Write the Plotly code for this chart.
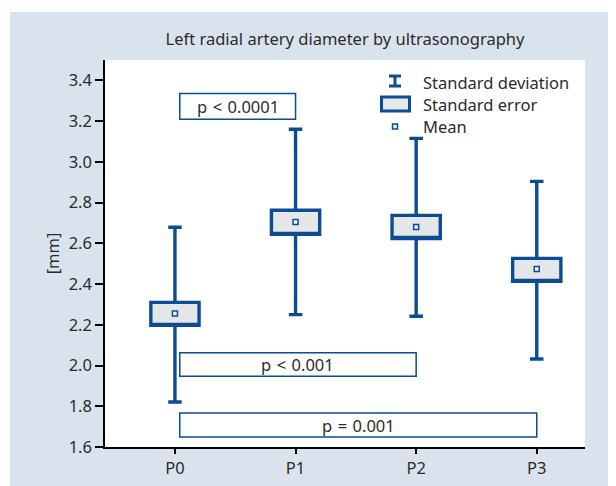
import plotly.graph_objects as go

# ---- data ----
categories = ["P0", "P1", "P2", "P3"]
mean_mm = [2.255, 2.705, 2.680, 2.474]
se_low = [2.197, 2.644, 2.624, 2.413]
se_high = [2.310, 2.762, 2.737, 2.526]
sd_low = [1.821, 2.250, 2.242, 2.032]
sd_high = [2.679, 3.160, 3.115, 2.904]

comp_to = ["P1", "P2", "P3"]          # each compared against P0
comp_labels = ["p\u2004<\u20040.0001", "p\u2004<\u20040.001", "p\u2004=\u20040.001"]
comp_y_low = [3.209, 1.947, 1.649]
comp_y_high = [3.335, 2.063, 1.767]

legend_labels = ["Standard deviation", "Standard error", "Mean"]
yticks = [1.6, 1.8, 2.0, 2.2, 2.4, 2.6, 2.8, 3.0, 3.2, 3.4]

# ---- style ----
BLUE = "#0b4c92"
FILL = "#e5e6e8"
BG = "#dae3ed"
TXT = "#2b2b2b"
FONT = "Noto Sans"
FS = 16.5

OFF = 8  # page body margin
W, H = 616, 486
# screen positions of the plot area
SL, ST, SR, SB = 105, 60, 585, 446.7
L = SL - OFF
T = ST - OFF
pw = SR - SL
ph = SB - ST
R = W - L - pw
B = H - T - ph


def px(xs):
    return (xs - SL) / pw


def py(ys):
    return (SB - ys) / ph


fig = go.Figure()

fig.add_trace(go.Box(
    x=categories,
    q1=se_low,
    median=se_low,
    q3=se_high,
    lowerfence=sd_low,
    upperfence=sd_high,
    width=0.4,
    whiskerwidth=0.28,
    fillcolor=FILL,
    line=dict(color=BLUE, width=3.4),
    boxpoints=False,
    hoverinfo="skip",
    showlegend=False,
))

fig.add_trace(go.Scatter(
    x=categories,
    y=mean_mm,
    mode="markers",
    marker=dict(symbol="square", size=5, color="#f2f4f7",
                line=dict(color=BLUE, width=1.5)),
    showlegend=False,
    hoverinfo="skip",
))

shapes = []
annotations = []

# comparison boxes
for tgt, lab, y0, y1 in zip(comp_to, comp_labels, comp_y_low, comp_y_high):
    xi = categories.index(tgt)
    shapes.append(dict(type="rect", xref="x", yref="y",
                       x0=0.04, x1=xi, y0=y0, y1=y1,
                       line=dict(color=BLUE, width=1.5), fillcolor="white",
                       layer="above"))
    annotations.append(dict(x=(0.04 + xi) / 2, y=(y0 + y1) / 2, xref="x", yref="y",
                            text=lab, showarrow=False,
                            font=dict(size=FS, color=TXT, family=FONT)))

# white strips at top and left of the page
shapes.append(dict(type="rect", xref="paper", yref="paper",
                   x0=px(-20), x1=px(W + 20), y0=py(12), y1=py(-20),
                   fillcolor="white", line=dict(width=0), layer="below"))
shapes.append(dict(type="rect", xref="paper", yref="paper",
                   x0=px(-20), x1=px(10), y0=py(H + 20), y1=py(-20),
                   fillcolor="white", line=dict(width=0), layer="below"))

# manual legend
shapes.append(dict(type="line", xref="paper", yref="paper",
                   x0=px(395), x1=px(395), y0=py(76), y1=py(86),
                   line=dict(color=BLUE, width=3)))
for yy in (76, 86):
    shapes.append(dict(type="line", xref="paper", yref="paper",
                       x0=px(389), x1=px(401), y0=py(yy), y1=py(yy),
                       line=dict(color=BLUE, width=3)))
shapes.append(dict(type="rect", xref="paper", yref="paper",
                   x0=px(381.5), x1=px(409.5), y0=py(97), y1=py(111),
                   fillcolor=FILL, line=dict(color=BLUE, width=3)))
shapes.append(dict(type="rect", xref="paper", yref="paper",
                   x0=px(392.5), x1=px(397.5), y0=py(124), y1=py(129),
                   fillcolor="#f2f4f7", line=dict(color=BLUE, width=1.5)))

for lab, yc in zip(legend_labels, [82.5, 104.5, 126.5]):
    annotations.append(dict(x=px(421), y=py(yc), xref="paper", yref="paper",
                            xanchor="left", yanchor="middle", text=lab,
                            showarrow=False,
                            font=dict(size=FS, color=TXT, family=FONT)))

fig.update_layout(
    width=W, height=H,
    margin=dict(l=L, r=R, t=T, b=B),
    paper_bgcolor=BG,
    plot_bgcolor="white",
    font=dict(family=FONT, size=FS, color=TXT),
    title=dict(text="Left radial artery diameter by ultrasonography",
               x=(L + pw / 2) / W, xanchor="center",
               y=1 - (39 - OFF) / H, yanchor="middle",
               font=dict(size=FS, color=TXT, family=FONT)),
    shapes=shapes,
    annotations=annotations,
    showlegend=False,
)

fig.update_xaxes(
    type="category",
    range=[-0.58, 3.40],
    showline=True, linecolor="black", linewidth=1.5,
    ticks="outside", ticklen=5, tickcolor="black", tickwidth=1.5,
    showgrid=False, zeroline=False,
    tickfont=dict(size=FS, color=TXT),
)

fig.update_yaxes(
    range=[1.6, 3.5],
    tickvals=yticks,
    ticktext=[f"{v:.1f}" for v in yticks],
    showline=True, linecolor="black", linewidth=1.5,
    ticks="outside", ticklen=8, tickcolor="black", tickwidth=1.5,
    showgrid=False, zeroline=False,
    title=dict(text="[mm]", standoff=5, font=dict(size=FS, color=TXT)),
    tickfont=dict(size=FS, color=TXT),
)

fig.write_html("out.html")
